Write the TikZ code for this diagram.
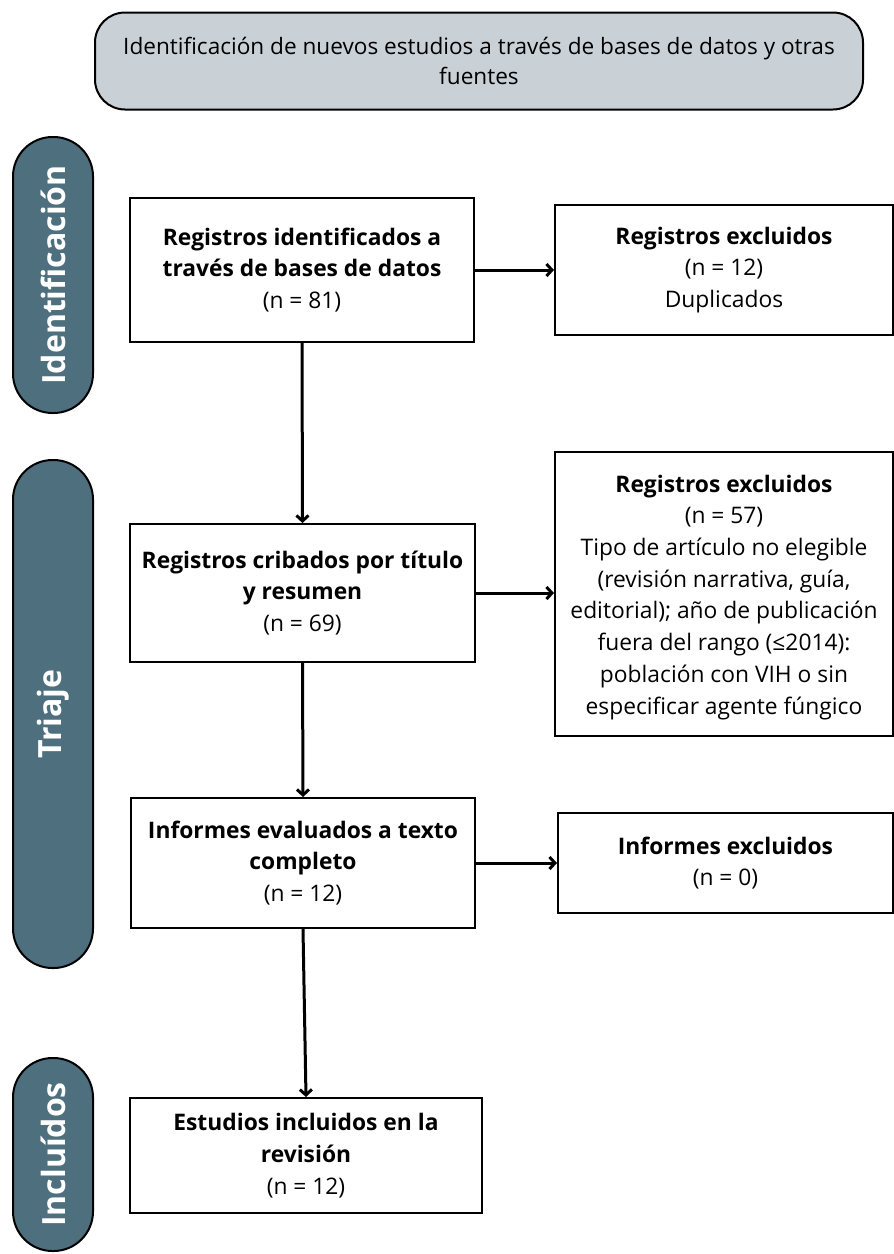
\documentclass[tikz,border=0pt]{standalone}
\usepackage{fontspec}
\setmainfont{Open Sans}
\usetikzlibrary{arrows.meta}
\definecolor{topfill}{HTML}{C9D1D7}
\definecolor{barfill}{HTML}{4D6F7E}
\tikzset{
  boxnode/.style={draw=black, line width=2pt, fill=white, align=center, inner sep=0pt,
    font=\fontsize{22.8}{31.7}\selectfont},
  barnode/.style={draw=black, line width=2pt, fill=barfill, rotate=90, minimum height=80pt,
    rounded corners=39.5pt, inner sep=0pt, text=white,
    font=\fontsize{32}{36}\selectfont\bfseries},
  conn/.style={line width=3pt, -{Straight Barb[length=5.5pt,width=12pt,line width=3pt]}},
}
\begin{document}
\begin{tikzpicture}[x=1pt,y=-1pt]
\useasboundingbox (0,0) rectangle (894,1254);
% header
\node[draw=black, line width=2pt, fill=topfill, rounded corners=30pt, minimum width=768pt,
  minimum height=97pt, align=center, inner sep=0pt, font=\fontsize{22.6}{30}\selectfont]
  (top) at (479,61) {Identificación de nuevos estudios a través de bases de datos y otras\\fuentes};
% side bars
\node[barnode, minimum width=276pt] (bar1) at (53,275) {Identificación};
\node[barnode, minimum width=508pt] (bar2) at (53,714) {Triaje};
\node[barnode, minimum width=193pt] (bar3) at (53,1154.5) {Incluídos};
% main boxes
\node[boxnode, minimum width=344pt, minimum height=144pt] (b1) at (302,270)
  {\textbf{Registros identificados a}\\\textbf{través de bases de datos}\\(n = 81)};
\node[boxnode, minimum width=345pt, minimum height=138pt] (b2) at (302.5,593)
  {\textbf{Registros cribados por título}\\\textbf{y resumen}\\(n = 69)};
\node[boxnode, minimum width=344pt, minimum height=130pt] (b3) at (303,863)
  {\textbf{Informes evaluados a texto}\\\textbf{completo}\\(n = 12)};
\node[boxnode, minimum width=352pt, minimum height=115pt] (b4) at (306,1155.5)
  {\textbf{Estudios incluidos en la}\\\textbf{revisión}\\(n = 12)};
% exclusion boxes
\node[boxnode, minimum width=338pt, minimum height=130pt] (e1) at (724,270)
  {\textbf{Registros excluidos}\\(n = 12)\\Duplicados};
\node[boxnode, minimum width=338pt, minimum height=284pt] (e2) at (724,594)
  {\rule{0pt}{10pt}\\[-18pt]\textbf{Registros excluidos}\\(n = 57)\\Tipo de artículo no elegible\\(revisión narrativa, guía,\\editorial); año de publicación\\fuera del rango (≤2014):\\población con VIH o sin\\especificar agente fúngico};
\node[boxnode, minimum width=335pt, minimum height=100pt] (e3) at (725.5,863)
  {\textbf{Informes excluidos}\\(n = 0)};
% connectors
\draw[conn] (b1.south) -- (b2.north);
\draw[conn] (b2.south) -- (b3.north);
\draw[conn] (b3.south) -- (b4.north);
\draw[conn] (b1.east) -- (e1.west);
\draw[conn] (b2.east) -- (b2.east -| e2.west);
\draw[conn] (b3.east) -- (e3.west);
\end{tikzpicture}
\end{document}
